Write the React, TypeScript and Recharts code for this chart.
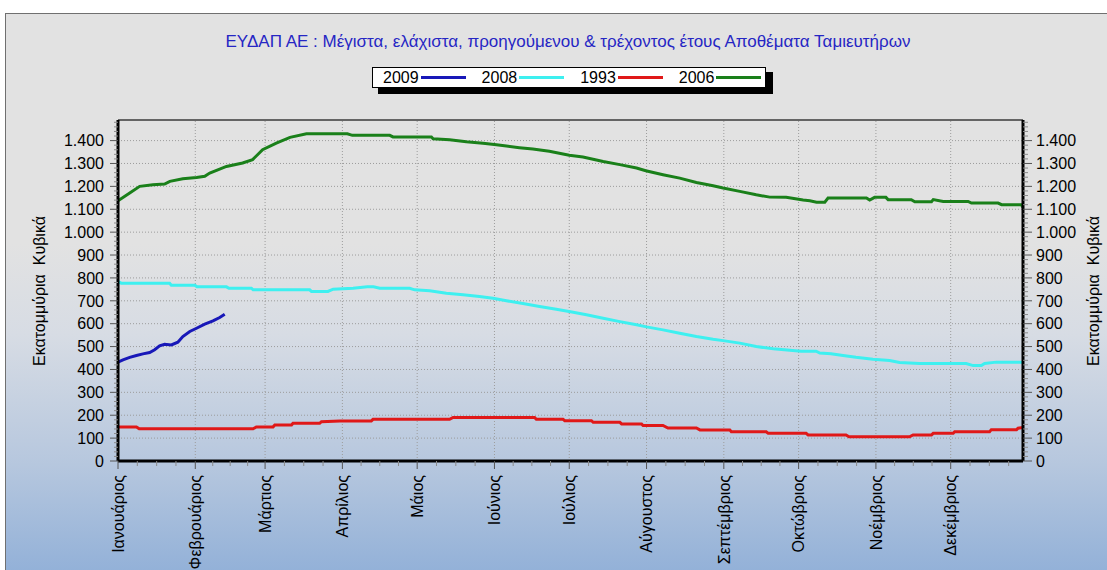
import React from 'react';
import { LineChart, Line, XAxis, YAxis, ReferenceLine } from 'recharts';

const FONT = "'Liberation Sans', Arial, sans-serif";

const monthLabels = [
  'Ιανουάριος', 'Φεβρουάριος', 'Μάρτιος', 'Απρίλιος', 'Μάιος', 'Ιούνιος',
  'Ιούλιος', 'Αύγουστος', 'Σεπτέμβριος', 'Οκτώβριος', 'Νοέμβριος', 'Δεκέμβριος',
];
const monthStarts = [0, 31, 59, 90, 120, 151, 181, 212, 243, 273, 304, 334];
const yMajorTicks = [0, 100, 200, 300, 400, 500, 600, 700, 800, 900, 1000, 1100, 1200, 1300, 1400];
const Y_MAX = 1490;
const X_MAX = 363;

const seriesNames = ['2009', '2008', '1993', '2006'];
const seriesColors = ['#1818b8', '#3ef0f0', '#e01818', '#1a801a'];

const days2009 = [0, 2, 4.7, 7.4, 10, 12.7, 14.7, 16.7, 18.7, 21.4, 24, 26, 28.8, 31.5, 34.8, 38.1, 40.8, 42.8];
const values2009 = [432, 442, 453, 461, 468, 474, 486, 503, 510, 507, 519, 544, 566, 580, 598, 612, 627, 641];

const days2008 = [0, 1.3, 20.7, 21.4, 30.8, 31.7, 43.5, 44.5, 53.5, 54.2, 76.9, 77.6, 84.2, 86.3, 94.3, 100, 102.5, 105, 117, 119, 125, 131.7, 138.4, 145, 150.4, 155.8, 162.4, 169.1, 175.8, 181.5, 187.9, 194.6, 201.3, 208, 212, 218.6, 225.3, 232, 238.7, 242.7, 249.4, 256, 262.8, 269.5, 274, 280, 281.5, 286, 290.8, 296, 302.8, 309.5, 313.5, 321.5, 340.2, 343, 346.3, 347.6, 352.3, 363];
const values2008 = [784, 777, 777, 768, 768, 761, 761, 755, 755, 748, 748, 741, 741, 751, 755, 761, 761, 755, 755, 748, 744, 733, 726, 719, 711, 700, 688, 675, 663, 652, 639, 624, 609, 595, 586, 573, 558, 544, 532, 526, 515, 500, 490, 484, 480, 480, 472, 469, 461, 453, 445, 439, 430, 426, 426, 417, 417, 426, 432, 432];

const days1993 = [0, 7.4, 8.5, 54.2, 55.5, 62.2, 62.9, 69.6, 70.2, 80.9, 81.6, 89, 101.6, 102.3, 133, 134.4, 167.1, 167.8, 178.5, 179.2, 189.9, 190.6, 201.3, 202, 210, 210.6, 218.6, 220.6, 232, 233.4, 245.4, 246, 260, 260.8, 276, 276.8, 292, 293.2, 317.5, 318.9, 326.3, 327, 335, 335.6, 349.6, 350.3, 360.4, 361, 363];
const values1993 = [149, 149, 141, 141, 149, 149, 157, 157, 165, 165, 172, 175, 175, 182, 182, 190, 190, 182, 182, 176, 176, 169, 169, 162, 162, 155, 155, 144, 144, 136, 136, 128, 128, 121, 121, 114, 114, 106, 106, 114, 114, 121, 121, 128, 128, 137, 137, 143, 146];

const days2006 = [0, 4.7, 8.7, 14, 18.7, 20.8, 26, 31.5, 34.8, 36.8, 43.5, 50, 54, 58, 63.5, 69, 75.6, 92, 94, 109, 110.3, 125.7, 126.4, 133, 139.7, 146.4, 151.8, 155.8, 161, 166.4, 173, 181, 186.5, 194.6, 201.3, 208, 211.7, 218.6, 225.3, 232, 238.7, 242.7, 249.4, 256, 261.4, 268, 274.8, 277.5, 280.2, 283.5, 284.8, 300.2, 301.5, 303.5, 308, 308.9, 318.2, 319.6, 326.3, 327, 331, 341, 342.3, 353, 354.4, 362.4, 363];
const values2006 = [1137, 1171, 1200, 1207, 1210, 1222, 1233, 1239, 1244, 1258, 1287, 1302, 1317, 1360, 1389, 1414, 1430, 1430, 1423, 1423, 1416, 1416, 1408, 1404, 1395, 1388, 1382, 1376, 1369, 1363, 1353, 1336, 1328, 1309, 1295, 1280, 1268, 1251, 1236, 1217, 1203, 1193, 1178, 1163, 1153, 1152, 1140, 1137, 1131, 1131, 1149, 1149, 1140, 1152, 1152, 1142, 1142, 1133, 1133, 1142, 1134, 1134, 1127, 1127, 1120, 1120, 1108];

const toData = (d: number[], v: number[]) => d.map((x, i) => ({ d: x, v: v[i] }));
const seriesData = [
  toData(days2009, values2009),
  toData(days2008, values2008),
  toData(days1993, values1993),
  toData(days2006, values2006),
];

const minorX: number[] = [];
monthStarts.forEach((s, i) => {
  const e = i < monthStarts.length - 1 ? monthStarts[i + 1] : 365;
  [1, 2, 3].forEach((k) => {
    const t = s + ((e - s) * k) / 4;
    if (t <= X_MAX) minorX.push(t);
  });
});
const xTickValues = [...monthStarts, ...minorX].sort((a, b) => a - b);
const yTickValues: number[] = [];
for (let v = 0; v <= 1480; v += 20) yTickValues.push(v);

const fmt = (v: number) =>
  v >= 1000 ? `${Math.floor(v / 1000)}.${String(v % 1000).padStart(3, '0')}` : String(v);

const XTick = (props: any) => {
  const { x, y, payload } = props;
  const idx = monthStarts.indexOf(payload.value);
  if (idx < 0) {
    return <line x1={x} x2={x} y1={y} y2={y + 5} stroke="#8a8a8a" strokeWidth={1} />;
  }
  const ty = y + 14;
  return (
    <g>
      <line x1={x} x2={x} y1={y} y2={y + 8} stroke="#555" strokeWidth={1} />
      <text
        x={x}
        y={ty}
        transform={`rotate(-90, ${x}, ${ty})`}
        textAnchor="end"
        dy="0.36em"
        fontSize={16}
        fontFamily={FONT}
        fill="#000"
      >
        {monthLabels[idx]}
      </text>
    </g>
  );
};

const YTickLeft = (props: any) => {
  const { x, y, payload } = props;
  const v = payload.value;
  if (v % 100 !== 0) {
    return <line x1={x - 4} x2={x} y1={y} y2={y} stroke="#8a8a8a" strokeWidth={1} />;
  }
  return (
    <g>
      <line x1={x - 8} x2={x} y1={y} y2={y} stroke="#555" strokeWidth={1} />
      <text x={x - 14} y={y} textAnchor="end" dy="0.36em" fontSize={16} fontFamily={FONT} fill="#000">
        {fmt(v)}
      </text>
    </g>
  );
};

const YTickRight = (props: any) => {
  const { x, y, payload } = props;
  const v = payload.value;
  if (v % 100 !== 0) {
    return <line x1={x} x2={x + 5} y1={y} y2={y} stroke="#8a8a8a" strokeWidth={1} />;
  }
  return (
    <g>
      <line x1={x} x2={x + 9} y1={y} y2={y} stroke="#555" strokeWidth={1} />
      <text x={x + 13} y={y} textAnchor="start" dy="0.36em" fontSize={16} fontFamily={FONT} fill="#000">
        {fmt(v)}
      </text>
    </g>
  );
};

const gridStyle = { stroke: '#9c9c9c', strokeDasharray: '1 2', strokeWidth: 1 };

export default function App() {
  return (
    <div style={{ position: 'absolute', left: 0, top: 0, width: 1107, height: 570, overflow: 'hidden', background: '#fff' }}>
      <div
        style={{
          position: 'absolute',
          left: 5,
          top: 13,
          width: 1120,
          height: 580,
          borderLeft: '1.5px solid #707070',
          borderTop: '1.5px solid #707070',
          background:
            'linear-gradient(180deg, #e2e2e2 0px, #e2e2e2 230px, #d7dce4 320px, #b6c7de 450px, #93b1d8 557px)',
        }}
      />
      <div
        style={{
          position: 'absolute',
          left: 0,
          top: 32,
          width: 1136,
          textAlign: 'center',
          fontFamily: FONT,
          fontSize: 17,
          color: '#2626c4',
          whiteSpace: 'nowrap',
        }}
      >
        ΕΥΔΑΠ ΑΕ : Μέγιστα, ελάχιστα, προηγούμενου &amp; τρέχοντος έτους Αποθέματα Ταμιευτήρων
      </div>
      <div style={{ position: 'absolute', left: 378, top: 72, width: 395, height: 22, background: '#000' }} />
      <div
        style={{
          position: 'absolute',
          left: 372,
          top: 67,
          width: 394,
          height: 21,
          background: '#fff',
          border: '1px solid #000',
          display: 'flex',
          alignItems: 'center',
          paddingLeft: 10,
          boxSizing: 'border-box',
          fontFamily: FONT,
          fontSize: 16,
          color: '#000',
        }}
      >
        {seriesNames.map((n, i) => (
          <div key={n} style={{ display: 'flex', alignItems: 'center', marginRight: i < 3 ? 16 : 0 }}>
            <span style={{ display: 'inline-block' }}>{n}</span>
            <span style={{ width: 45, height: 3, background: seriesColors[i], marginLeft: 2, display: 'inline-block' }} />
          </div>
        ))}
      </div>
      <div
        style={{
          position: 'absolute',
          left: 40,
          top: 291,
          transform: 'translate(-50%, -50%) rotate(-90deg)',
          fontFamily: FONT,
          fontSize: 16,
          whiteSpace: 'pre',
          color: '#000',
        }}
      >
        Εκατομμύρια  Κυβικά
      </div>
      <div
        style={{
          position: 'absolute',
          left: 1094,
          top: 291,
          transform: 'translate(-50%, -50%) rotate(-90deg)',
          fontFamily: FONT,
          fontSize: 16,
          whiteSpace: 'pre',
          color: '#000',
        }}
      >
        Εκατομμύρια  Κυβικά
      </div>
      <div style={{ position: 'absolute', left: 0, top: 0 }}>
        <LineChart width={1107} height={570} margin={{ top: 120, right: 14, bottom: 9, left: 38 }}>
          <XAxis
            dataKey="d"
            type="number"
            domain={[0, X_MAX]}
            ticks={xTickValues}
            interval={0}
            height={100}
            tickSize={0}
            tickMargin={0}
            tickLine={false}
            tick={<XTick />}
            axisLine={{ stroke: '#000', strokeWidth: 3 }}
            allowDataOverflow
          />
          <YAxis
            type="number"
            domain={[0, Y_MAX]}
            ticks={yTickValues}
            interval={0}
            width={80}
            tickSize={0}
            tickMargin={0}
            tickLine={false}
            tick={<YTickLeft />}
            axisLine={{ stroke: '#000', strokeWidth: 3 }}
            allowDataOverflow
          />
          <YAxis
            yAxisId="right"
            orientation="right"
            type="number"
            domain={[0, Y_MAX]}
            ticks={yTickValues}
            interval={0}
            width={70}
            tickSize={0}
            tickMargin={0}
            tickLine={false}
            tick={<YTickRight />}
            axisLine={{ stroke: '#000', strokeWidth: 3 }}
            allowDataOverflow
          />
          {monthStarts.slice(1).map((m) => (
            <ReferenceLine key={`vx${m}`} x={m} {...gridStyle} />
          ))}
          {yMajorTicks.slice(1).map((v) => (
            <ReferenceLine key={`hy${v}`} y={v} {...gridStyle} />
          ))}
          <ReferenceLine y={Y_MAX} stroke="#3a3a3a" strokeWidth={1.5} ifOverflow="visible" />
          {[3, 1, 2, 0].map((i) => (
            <Line
              key={seriesNames[i]}
              data={seriesData[i]}
              dataKey="v"
              name={seriesNames[i]}
              type="linear"
              stroke={seriesColors[i]}
              strokeWidth={3}
              dot={false}
              activeDot={false}
              isAnimationActive={false}
            />
          ))}
        </LineChart>
      </div>
    </div>
  );
}
